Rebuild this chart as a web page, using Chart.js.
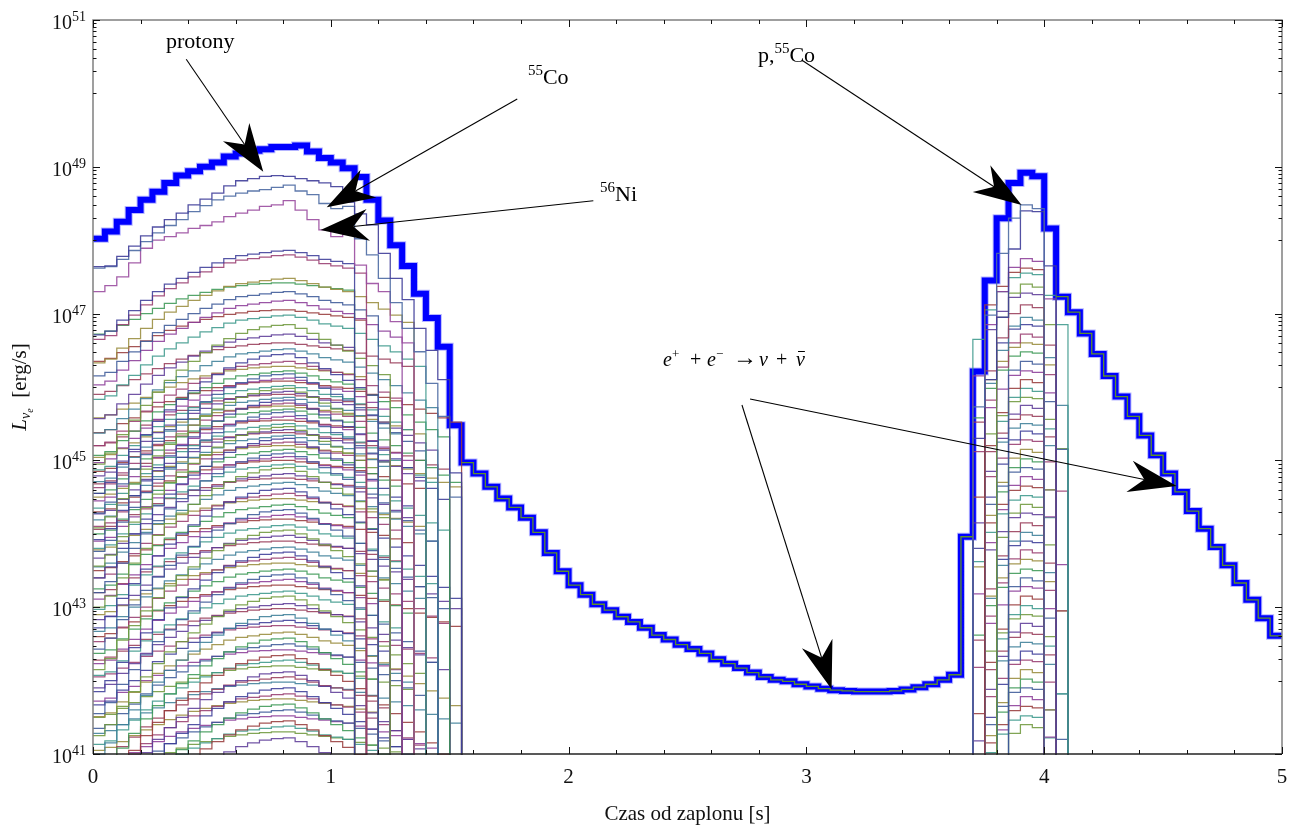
<!DOCTYPE html>
<html>
<head>
<meta charset="utf-8">
<script src="https://cdn.jsdelivr.net/npm/chart.js@4.4.1/dist/chart.umd.min.js"></script>
<style>
  html, body { margin: 0; padding: 0; background: #fff; }
  #wrap { width: 1297px; height: 828px; }
</style>
</head>
<body>
<div id="wrap"><canvas id="lumChart" width="1297" height="828"></canvas></div>
<script>
// histogram bins are 0.05 s wide, every value is log10(L / erg s^-1)
const binWidth = 0.05;
const xTicks = [0, 1, 2, 3, 4, 5];
const yTickExps = [41, 43, 45, 47, 49, 51];

// total luminosity (thick blue), bins 0..99
const total = [
  48.02, 48.12, 48.25, 48.41, 48.55, 48.66, 48.78, 48.88, 48.94, 49.00,
  49.06, 49.14, 49.18, 49.22, 49.24, 49.27, 49.27, 49.29, 49.21, 49.12,
  49.06, 48.98, 48.86, 48.55, 48.27, 47.93, 47.65, 47.27, 46.94, 46.55,
  45.48, 44.97, 44.82, 44.64, 44.48, 44.36, 44.22, 44.02, 43.74, 43.49,
  43.30, 43.17, 43.04, 42.96, 42.87, 42.80, 42.72, 42.62, 42.56, 42.49,
  42.43, 42.37, 42.29, 42.23, 42.17, 42.11, 42.05, 42.01, 41.99, 41.95,
  41.92, 41.89, 41.87, 41.86, 41.85, 41.85, 41.85, 41.86, 41.88, 41.91,
  41.95, 42.01, 42.08, 43.96, 46.21, 47.45, 48.30, 48.78, 48.92, 48.87,
  48.16, 47.23, 47.02, 46.73, 46.45, 46.15, 45.87, 45.60, 45.34, 45.07,
  44.82, 44.57, 44.31, 44.07, 43.82, 43.57, 43.33, 43.10, 42.85, 42.61
];

// named thin lines of the first burst, starting at bin 0
const protons = [47.64, 47.65, 47.78, 47.92, 48.06, 48.18, 48.28, 48.37, 48.48, 48.56,
  48.64, 48.74, 48.81, 48.84, 48.87, 48.88, 48.87, 48.84, 48.81, 48.78,
  48.73, 48.52, 48.36, 48.21, 47.82, 47.48, 47.19, 46.80, 46.50, 46.10, 44.83];
const co55 = [47.62, 47.64, 47.74, 47.86, 47.98, 48.10, 48.20, 48.28, 48.39, 48.47,
  48.55, 48.60, 48.64, 48.67, 48.69, 48.72, 48.75, 48.67, 48.62, 48.50,
  48.43, 48.46, 48.02, 47.80, 47.48, 47.15, 46.80, 46.48, 46.05, 45.60, 44.50];
const ni56 = [47.30, 47.38, 47.50, 47.69, 47.89, 48.00, 48.05, 48.10, 48.16, 48.20,
  48.25, 48.32, 48.37, 48.41, 48.46, 48.48, 48.54, 48.41, 48.28, 48.14,
  48.05, 48.08, 47.66, 47.41, 47.30, 46.89, 46.60];

// named thin lines of the second burst, starting at bin 74
const burstCo55 = [45.73, 46.98, 47.82, 48.30, 48.48, 48.43];
const burstP = [45.30, 46.10, 46.95, 47.88, 48.40, 48.39, 47.65];

const earlyA = [-1.15, -1.10, -0.95, -0.82, -0.68, -0.56, -0.46, -0.38, -0.30, -0.23,
  -0.17, -0.11, -0.07, -0.05, -0.03, -0.01, 0, -0.03, -0.07, -0.12,
  -0.15, -0.18, -0.25, -0.33, -0.42, -0.50, -0.60, -0.70, -0.80, -0.90, -1.00];
const earlyB = [-1.90, -1.75, -1.50, -1.30, -1.10, -0.92, -0.76, -0.62, -0.50, -0.38,
  -0.28, -0.19, -0.12, -0.07, -0.03, -0.01, 0, -0.05, -0.12, -0.20,
  -0.28, -0.36, -0.46, -0.56, -0.68, -0.80, -0.92, -1.05, -1.20, -1.35, -1.50];
const earlyC = [-0.70, -0.66, -0.58, -0.50, -0.42, -0.35, -0.28, -0.22, -0.17, -0.13,
  -0.09, -0.06, -0.04, -0.02, -0.01, 0, 0, -0.02, -0.04, -0.06,
  -0.08, -0.10, -0.14, -0.18, -0.22, -0.27, -0.32, -0.38, -0.44, -0.50, -0.56];

// the crowd of other nuclei in the first burst: peak level, profile, last bin
const bandPeak = [
  47.86, 47.80, 47.48, 47.42, 47.30, 47.18, 47.05, 46.98, 46.85, 46.72, 46.60, 46.52, 46.45, 46.35,
  46.28, 46.22, 46.18, 46.12, 46.08, 46.02, 45.98, 45.94, 45.90, 45.86, 45.82, 45.78, 45.74, 45.70, 45.66, 45.60,
  45.55, 45.50, 45.46, 45.42, 45.38, 45.34, 45.30, 45.25, 45.20, 45.15, 45.10, 45.05, 45.00, 44.95,
  44.90, 44.82, 44.76, 44.70, 44.62, 44.55, 44.48, 44.40, 44.33, 44.26, 44.20, 44.12, 44.05, 43.98, 43.90,
  43.82, 43.75, 43.68, 43.60, 43.52, 43.45, 43.38, 43.30, 43.22, 43.15,
  43.05, 42.98, 42.90, 42.82, 42.75, 42.66, 42.58, 42.50, 42.42, 42.35, 42.28, 42.20, 42.12, 42.05,
  41.98, 41.90, 41.82, 41.75, 41.68, 41.60, 41.52, 41.45, 41.38, 41.30, 41.22
];
const bandShape = [
  0, 0, 0, 2, 0, 0, 2, 0, 1, 0, 2, 0, 1, 0,
  2, 0, 1, 0, 2, 0, 1, 0, 2, 0, 1, 0, 2, 0, 1, 0,
  2, 0, 1, 0, 2, 0, 1, 0, 2, 0, 1, 0, 2, 0,
  1, 0, 2, 0, 1, 0, 2, 0, 1, 0, 2, 0, 1, 0, 2,
  0, 1, 0, 2, 0, 1, 0, 2, 0, 1,
  0, 2, 1, 0, 2, 0, 1, 0, 2, 1, 0, 2, 1, 0,
  2, 1, 0, 2, 1, 0, 2, 1, 0, 2, 1
];
const bandEnd = [
  21, 22, 26, 21, 23, 25, 22, 27, 24, 21, 26, 28, 23, 25,
  22, 29, 27, 24, 30, 26, 21, 28, 23, 25, 29, 22, 27, 30, 24, 26,
  21, 28, 23, 27, 29, 24, 26, 22, 30, 25, 28, 23, 27, 29,
  24, 26, 22, 28, 30, 25, 27, 23, 29, 21, 26, 28, 24, 30, 25,
  27, 22, 29, 24, 26, 28, 23, 30, 25, 27,
  29, 22, 26, 24, 28, 30, 23, 27, 25, 29, 22, 26, 28, 24,
  30, 25, 27, 23, 29, 26, 28, 24, 30, 27, 25
];

// profiles of the second burst, bins 74..81
const burstA = [-1.60, -0.90, -0.45, -0.12, 0, -0.04, -0.55, -1.20];
const burstB = [-0.90, -0.50, -0.25, -0.06, 0, -0.02, -0.30, -0.70];

const burstPeak = [
  47.75, 47.62, 47.55, 47.40, 47.28, 47.12, 46.95, 46.85, 46.72, 46.60, 46.48, 46.35, 46.22,
  46.10, 45.98, 45.86, 45.75, 45.62, 45.50, 45.40, 45.28, 45.15, 45.02, 44.90, 44.78, 44.65,
  44.52, 44.40, 44.28, 44.15, 44.02, 43.90, 43.78, 43.65, 43.52, 43.40, 43.28, 43.15, 43.02,
  42.90, 42.78, 42.65, 42.52, 42.40, 42.28, 42.15, 42.02, 41.90, 41.78, 41.65, 41.52, 41.40
];
const burstShape = [
  0, 1, 1, 0, 1, 0, 0, 1, 0, 1, 1, 0, 1,
  0, 0, 1, 0, 1, 1, 0, 1, 0, 0, 1, 0, 1,
  1, 0, 1, 0, 0, 1, 0, 1, 1, 0, 1, 0, 0,
  1, 0, 1, 1, 0, 1, 0, 0, 1, 0, 1, 1, 0
];
const burstStart = [
  74, 75, 74, 76, 75, 74, 75, 76, 74, 75, 74, 77, 75,
  74, 76, 75, 74, 75, 76, 74, 75, 74, 76, 75, 74, 75,
  74, 76, 75, 74, 75, 76, 74, 75, 74, 77, 75, 74, 76,
  75, 74, 75, 76, 74, 75, 74, 76, 75, 74, 75, 74, 76
];
const burstEnd = [
  80, 79, 81, 80, 79, 80, 81, 79, 80, 80, 79, 81, 80,
  79, 80, 81, 79, 80, 80, 79, 81, 80, 79, 80, 81, 79,
  80, 80, 79, 81, 80, 79, 80, 81, 79, 80, 80, 79, 81,
  80, 79, 80, 81, 79, 80, 80, 79, 81, 80, 79, 80, 81
];

// ---------- styling ----------
const SERIF = '"Liberation Serif", "DejaVu Serif", serif';
const FLOOR = 1e20; // "below the axis": lines fall out of the frame
const palette = ['#3d3d99', '#993d71', '#998c3d', '#3d9957', '#3d5a99', '#8c3d99',
  '#993d3d', '#3d998c', '#6f993d', '#5f3d99', '#993d5a', '#3d8099'];
const earlyShapes = [earlyA, earlyB, earlyC];
const burstShapes = [burstA, burstB];

function stepPoints(firstBin, logs, drop, rise) {
  const pts = [];
  if (rise) pts.push({ x: firstBin * binWidth, y: FLOOR });
  logs.forEach((v, i) => pts.push({ x: (firstBin + i) * binWidth, y: Math.pow(10, v) }));
  const endX = (firstBin + logs.length) * binWidth;
  pts.push({ x: endX, y: drop ? FLOOR : Math.pow(10, logs[logs.length - 1]) });
  return pts;
}

function thin(points, color, width) {
  return {
    data: points, borderColor: color, borderWidth: width || 1.25,
    stepped: true, pointRadius: 0, fill: false, clip: 1, order: 0
  };
}

const datasets = [];

// pair annihilation contribution, coinciding with the total between the bursts
const pairFrom = [31, 81];
const pairTo = [73, 99];
pairFrom.forEach((b, k) => {
  const logs = total.slice(b, pairTo[k] + 1);
  datasets.push(thin(stepPoints(b, logs, false, false), '#5c8f2c', 1.3));
});

datasets.push(thin(stepPoints(0, protons, true, false), '#3f3d99e6', 1.3));
datasets.push(thin(stepPoints(0, co55, true, false), '#4d6aa3e6', 1.3));
datasets.push(thin(stepPoints(0, ni56, true, false), '#9a4da0e6', 1.3));
datasets.push(thin(stepPoints(74, burstCo55, true, true), '#4d6aa3e6', 1.3));
datasets.push(thin(stepPoints(74, burstP, true, true), '#3f3d99e6', 1.3));

const nBand = Math.min(bandPeak.length, bandShape.length, bandEnd.length);
for (let i = 0; i < nBand; i++) {
  const shape = earlyShapes[bandShape[i]];
  const logs = shape.slice(0, bandEnd[i] + 1).map(o => bandPeak[i] + o);
  datasets.push(thin(stepPoints(0, logs, true, false), palette[i % palette.length] + 'e0'));
}

const nBurst = Math.min(burstPeak.length, burstShape.length, burstStart.length, burstEnd.length);
for (let i = 0; i < nBurst; i++) {
  const shape = burstShapes[burstShape[i]];
  const logs = [];
  for (let b = burstStart[i]; b <= burstEnd[i]; b++) logs.push(burstPeak[i] + shape[b - 74]);
  datasets.push(thin(stepPoints(burstStart[i], logs, true, true), palette[(i + 5) % palette.length] + 'e0'));
}

// thick total, drawn underneath everything else
const totalPts = stepPoints(0, total, false, false);
datasets.push({ data: totalPts, borderColor: '#0000ff', borderWidth: 6, stepped: true,
  pointRadius: 0, fill: false, clip: 3, order: 10 });
datasets.push({ data: totalPts, borderColor: 'rgba(120,120,255,0.55)', borderWidth: 8, stepped: true,
  pointRadius: 0, fill: false, clip: 4, order: 11 });

// ---------- annotations (data coordinates: x in s, y as log10) ----------
const arrows = [
  [0.392, 50.465, 0.716, 48.933],
  [1.784, 49.924, 0.983, 48.448],
  [2.104, 48.538, 0.957, 48.139],
  [2.980, 50.455, 3.905, 48.480],
  [2.729, 45.755, 3.106, 41.881],
  [2.763, 45.837, 4.557, 44.651]
];
const labels = [
  { at: [0.307, 50.619], parts: [{ t: 'protony', size: 22 }] },
  { at: [1.829, 50.128], parts: [{ t: '55', size: 15, dy: -9 }, { t: 'Co', size: 22 }] },
  { at: [2.132, 48.534], parts: [{ t: '56', size: 15, dy: -9 }, { t: 'Ni', size: 22 }] },
  { at: [2.796, 50.428], parts: [{ t: 'p,', size: 22 }, { t: '55', size: 15, dy: -9 }, { t: 'Co', size: 22 }] },
  { at: [2.397, 46.286], parts: [
    { t: 'e', size: 20, it: true, dx: 0 }, { t: '+', size: 13, dy: -8 },
    { t: '+', size: 20, dx: 27 }, { t: 'e', size: 20, it: true, dx: 44 }, { t: '\u2212', size: 13, dy: -8 },
    { t: '\u2192', size: 24, dx: 70, dy: -1 }, { t: '\u03bd', size: 20, it: true, dx: 96 },
    { t: '+', size: 20, dx: 113 }, { t: '\u03bd', size: 20, it: true, dx: 133, bar: true }
  ] }
];

function drawParts(c, parts, x, y) {
  let cx = x;
  parts.forEach(p => {
    c.font = (p.it ? 'italic ' : '') + p.size + 'px ' + SERIF;
    if (p.dx !== undefined) cx = x + p.dx;
    const w = c.measureText(p.t).width;
    c.fillText(p.t, cx, y + (p.dy || 0));
    if (p.bar) {
      c.beginPath(); c.lineWidth = 1;
      c.moveTo(cx + 2, y - 14.5); c.lineTo(cx + w, y - 14.5); c.stroke();
    }
    cx += w;
  });
  return cx - x;
}
function partsWidth(c, parts) {
  let w = 0;
  parts.forEach(p => { c.font = (p.it ? 'italic ' : '') + p.size + 'px ' + SERIF; w += c.measureText(p.t).width; });
  return w;
}

function drawArrow(c, x1, y1, x2, y2) {
  const len = Math.hypot(x2 - x1, y2 - y1);
  const ux = (x2 - x1) / len, uy = (y2 - y1) / len, nx = -uy, ny = ux;
  const L = 48, W = 16, notch = 33;
  c.beginPath(); c.lineWidth = 1.1;
  c.moveTo(x1, y1); c.lineTo(x2 - ux * notch, y2 - uy * notch); c.stroke();
  c.beginPath();
  c.moveTo(x2, y2);
  c.lineTo(x2 - ux * L + nx * W, y2 - uy * L + ny * W);
  c.lineTo(x2 - ux * notch, y2 - uy * notch);
  c.lineTo(x2 - ux * L - nx * W, y2 - uy * L - ny * W);
  c.closePath(); c.fill();
}

const framePlugin = {
  id: 'frame',
  afterDraw(chart) {
    const c = chart.ctx, a = chart.chartArea;
    const xs = chart.scales.x, ys = chart.scales.y;
    const py = e => ys.getPixelForValue(Math.pow(10, e));
    c.save();

    // frame
    c.lineWidth = 1.5;
    c.strokeStyle = '#808080';
    c.beginPath();
    c.moveTo(a.left, a.bottom); c.lineTo(a.left, a.top); c.lineTo(a.right, a.top); c.lineTo(a.right, a.bottom);
    c.stroke();
    c.strokeStyle = '#222';
    c.beginPath(); c.moveTo(a.left, a.bottom); c.lineTo(a.right, a.bottom); c.stroke();

    // ticks
    c.strokeStyle = '#111'; c.lineWidth = 1;
    c.beginPath();
    for (let v = 0; v <= 5.0001; v += 0.2) {
      const x = Math.round(xs.getPixelForValue(v)) + 0.5;
      const major = Math.abs(v - Math.round(v)) < 1e-6;
      const len = major ? 7 : 4;
      c.moveTo(x, a.bottom); c.lineTo(x, a.bottom - len);
      c.moveTo(x, a.top); c.lineTo(x, a.top + len);
    }
    yTickExps.forEach(e => {
      const y = Math.round(py(e)) + 0.5;
      c.moveTo(a.left, y); c.lineTo(a.left + 7, y);
      c.moveTo(a.right, y); c.lineTo(a.right - 7, y);
      if (e > 41) {
        for (let k = 1; k <= 9; k++) {
          const ym = Math.round(ys.getPixelForValue(k * Math.pow(10, e - 1))) + 0.5;
          c.moveTo(a.left, ym); c.lineTo(a.left + 3.5, ym);
          c.moveTo(a.right, ym); c.lineTo(a.right - 3.5, ym);
        }
      }
    });
    c.stroke();

    // tick labels
    c.fillStyle = '#111'; c.strokeStyle = '#111';
    c.textBaseline = 'alphabetic'; c.textAlign = 'left';
    yTickExps.forEach(e => {
      const parts = [{ t: '10', size: 20 }, { t: String(e), size: 14, dy: -8 }];
      const w = partsWidth(c, parts);
      drawParts(c, parts, 86 - w, py(e) + 9);
    });
    c.font = '21px ' + SERIF; c.textAlign = 'center';
    xTicks.forEach(v => c.fillText(String(v), xs.getPixelForValue(v), 783));

    // axis titles
    c.font = '21px ' + SERIF;
    c.fillText('Czas od zaplonu [s]', (a.left + a.right) / 2, 820);
    c.textAlign = 'left';
    const yTitle = [{ t: 'L', size: 21, it: true }, { t: '\u03bd', size: 14, it: true, dy: 4 },
      { t: 'e', size: 10, it: true, dy: 7 }, { t: '  [erg/s]', size: 21 }];
    c.save();
    c.translate(26, 387);
    c.rotate(-Math.PI / 2);
    drawParts(c, yTitle, -partsWidth(c, yTitle) / 2, 0);
    c.restore();

    // arrows and their labels
    c.fillStyle = '#000'; c.strokeStyle = '#000';
    arrows.forEach(r => drawArrow(c, xs.getPixelForValue(r[0]), py(r[1]), xs.getPixelForValue(r[2]), py(r[3])));
    labels.forEach(l => drawParts(c, l.parts, xs.getPixelForValue(l.at[0]), py(l.at[1])));

    c.restore();
  }
};

new Chart(document.getElementById('lumChart').getContext('2d'), {
  type: 'line',
  data: { datasets },
  options: {
    responsive: false,
    animation: false,
    devicePixelRatio: 1,
    events: [],
    layout: { padding: { left: 93, right: 15, top: 20, bottom: 74 } },
    scales: {
      x: { type: 'linear', min: 0, max: 5, display: false },
      y: { type: 'logarithmic', min: 1e41, max: 1e51, display: false }
    },
    elements: { point: { radius: 0 }, line: { tension: 0 } },
    plugins: { legend: { display: false }, tooltip: { enabled: false } }
  },
  plugins: [framePlugin]
});
</script>
</body>
</html>
